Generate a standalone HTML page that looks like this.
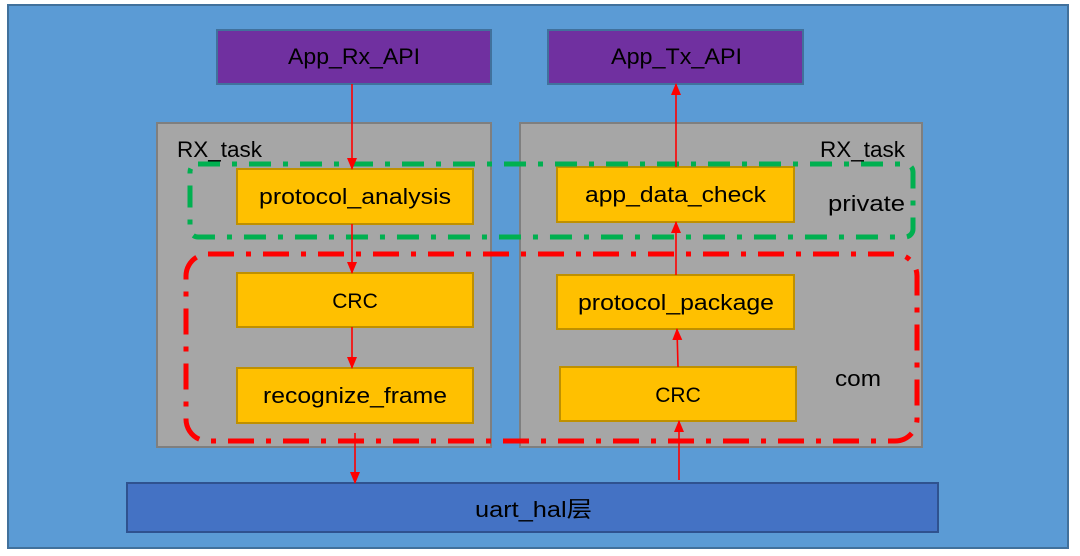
<!DOCTYPE html>
<html><head><meta charset="utf-8"><style>
html,body{margin:0;padding:0;background:#fff;}
svg{display:block;}
text{font-family:"Liberation Sans","Noto Sans CJK SC",sans-serif;font-size:22px;fill:#000;}
</style></head><body>
<svg width="1080" height="556" viewBox="0 0 1080 556" xmlns="http://www.w3.org/2000/svg">
<defs>
<marker id="ah" markerWidth="12" markerHeight="12" refX="11" refY="5" orient="auto" markerUnits="userSpaceOnUse" viewBox="0 0 12 10">
<path d="M0,0 L12,5 L0,10 z" fill="#ff0000"/></marker>
</defs>
<rect x="8" y="5" width="1060" height="543" fill="#5b9bd5" stroke="#41719c" stroke-width="2"/>
<rect x="217" y="30" width="274" height="54" fill="#7030a0" stroke="#41719c" stroke-width="2"/>
<text x="288" y="64" textLength="132" lengthAdjust="spacingAndGlyphs">App_Rx_API</text>
<rect x="548" y="30" width="255" height="54" fill="#7030a0" stroke="#41719c" stroke-width="2"/>
<text x="611" y="64" textLength="131" lengthAdjust="spacingAndGlyphs">App_Tx_API</text>
<rect x="157" y="123" width="334" height="324" fill="#a6a6a6" stroke="#7f7f7f" stroke-width="2"/>
<rect x="520" y="123" width="402" height="324" fill="#a6a6a6" stroke="#7f7f7f" stroke-width="2"/>
<text x="177" y="157" textLength="85" lengthAdjust="spacingAndGlyphs">RX_task</text>
<text x="820" y="157" textLength="85" lengthAdjust="spacingAndGlyphs">RX_task</text>
<rect x="237" y="169" width="236" height="55" fill="#ffc000" stroke="#bf9000" stroke-width="2"/>
<text x="259" y="204" textLength="192" lengthAdjust="spacingAndGlyphs">protocol_analysis</text>
<rect x="237" y="273" width="236" height="54" fill="#ffc000" stroke="#bf9000" stroke-width="2"/>
<text x="355" y="308" text-anchor="middle" style="font-size:21px">CRC</text>
<rect x="237" y="368" width="236" height="55" fill="#ffc000" stroke="#bf9000" stroke-width="2"/>
<text x="263" y="403" textLength="184" lengthAdjust="spacingAndGlyphs">recognize_frame</text>
<rect x="557" y="167" width="237" height="55" fill="#ffc000" stroke="#bf9000" stroke-width="2"/>
<text x="585" y="202" textLength="181" lengthAdjust="spacingAndGlyphs">app_data_check</text>
<rect x="557" y="275" width="237" height="54" fill="#ffc000" stroke="#bf9000" stroke-width="2"/>
<text x="578" y="310" textLength="196" lengthAdjust="spacingAndGlyphs">protocol_package</text>
<rect x="560" y="367" width="236" height="54" fill="#ffc000" stroke="#bf9000" stroke-width="2"/>
<text x="678" y="402" text-anchor="middle" style="font-size:21px">CRC</text>
<text x="828" y="211" textLength="77" lengthAdjust="spacingAndGlyphs">private</text>
<text x="835" y="386" textLength="46" lengthAdjust="spacingAndGlyphs">com</text>
<rect x="190" y="164" width="723" height="73" rx="8" fill="none" stroke="#00b050" stroke-width="5" stroke-dasharray="22,12,5,12"/>
<rect x="186" y="254" width="731" height="187" rx="22" fill="none" stroke="#ff0000" stroke-width="5" stroke-dasharray="26,12,5,12"/>
<rect x="127" y="483" width="811" height="49" fill="#4472c4" stroke="#2f528f" stroke-width="2"/>
<text x="475" y="517" textLength="117" lengthAdjust="spacingAndGlyphs">uart_hal层</text>
<g stroke="#ff0000" stroke-width="1.6" fill="none">
<line x1="352" y1="84" x2="352" y2="169" marker-end="url(#ah)"/>
<line x1="352" y1="224" x2="352" y2="273" marker-end="url(#ah)"/>
<line x1="352" y1="327" x2="352" y2="368" marker-end="url(#ah)"/>
<line x1="355" y1="433" x2="355" y2="483" marker-end="url(#ah)"/>
<line x1="676" y1="167" x2="676" y2="84" marker-end="url(#ah)"/>
<line x1="676" y1="275" x2="676" y2="222" marker-end="url(#ah)"/>
<line x1="678" y1="367" x2="677" y2="329" marker-end="url(#ah)"/>
<line x1="679" y1="480" x2="679" y2="421" marker-end="url(#ah)"/>
</g>
</svg>
</body></html>
